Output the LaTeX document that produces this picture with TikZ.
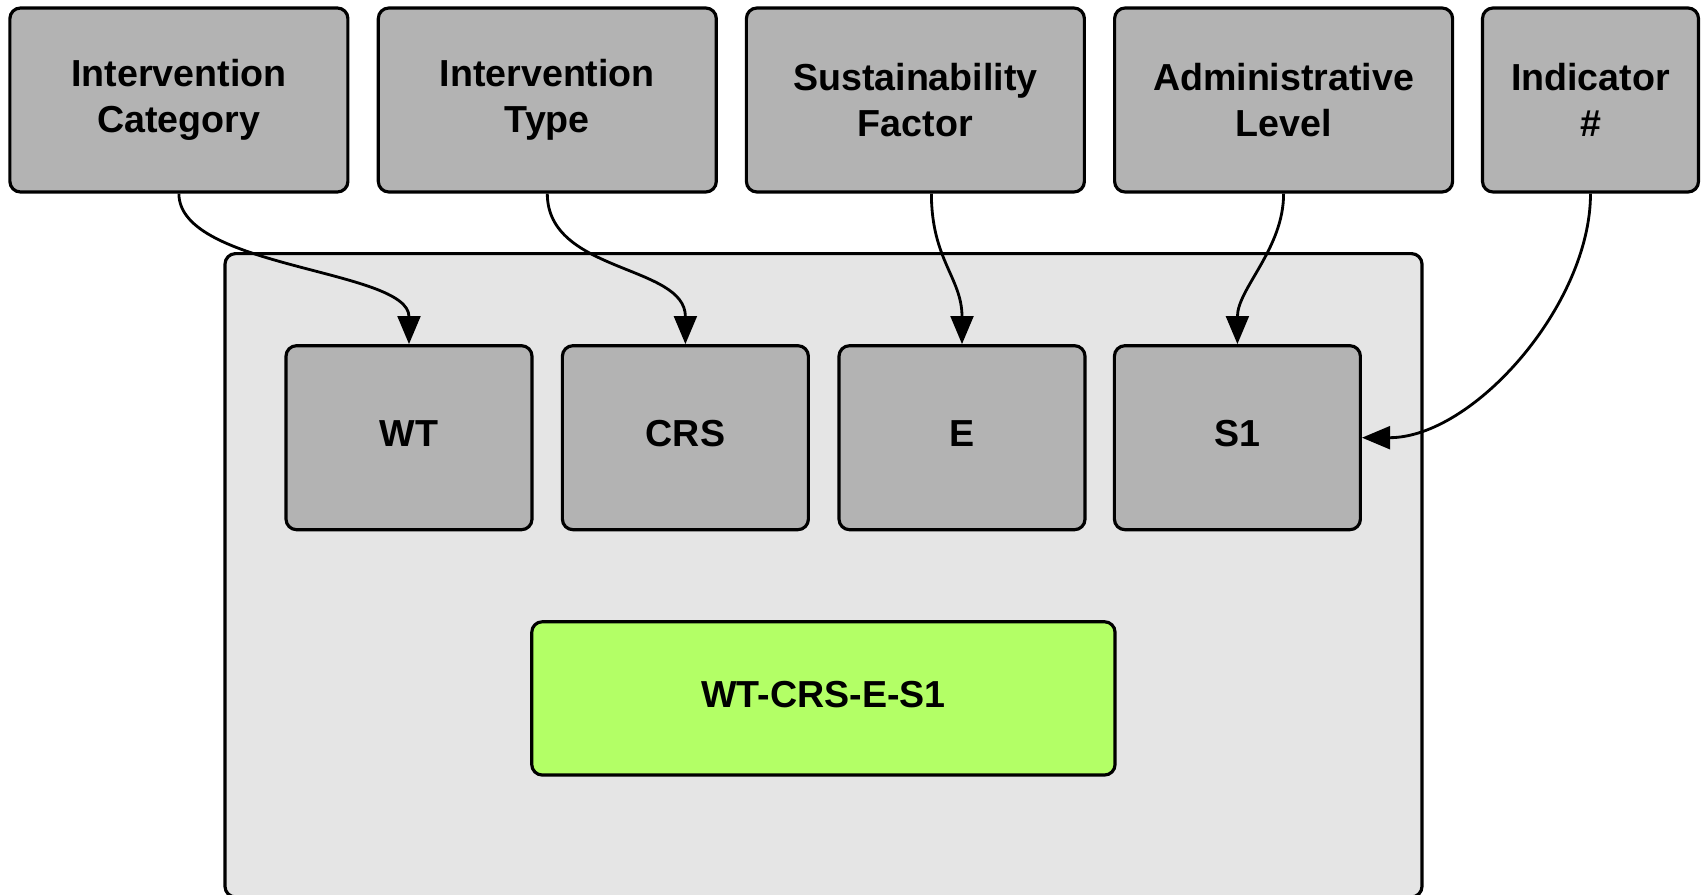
\documentclass[tikz,border=0pt]{standalone}
\usepackage{fontspec}
\setmainfont{Liberation Sans}
\usetikzlibrary{arrows.meta,calc}
\usepackage{xcolor}
\newcommand{\TopW}{3.38cm}
\newcommand{\LastW}{2.16cm}
\newcommand{\BoxH}{1.84cm}
\newcommand{\CodeW}{2.46cm}
\newcommand{\YTop}{-1.00}
\newcommand{\YCode}{-4.377}
\definecolor{FieldColor}{HTML}{B3B3B3}
\definecolor{PanelColor}{HTML}{E5E5E5}
\definecolor{ResultColor}{HTML}{B3FF66}

\begin{document}
\begin{tikzpicture}[
  field/.style={draw=black,line width=0.9pt,rounded corners=3pt,fill=FieldColor,
    minimum height=\BoxH,align=center,inner sep=0pt,
    font=\fontsize{10.7}{13}\selectfont\bfseries},
  part/.style={field,minimum width=\CodeW,text depth=2.5pt},
  panel/.style={draw=black,line width=0.9pt,rounded corners=3pt,fill=PanelColor},
  link/.style={line width=0.8pt,-{Triangle[length=8pt,width=6.5pt]}}
]
\useasboundingbox (0,0) rectangle (17.06,-8.95);

% Container
\draw[panel] (2.25,-2.536) rectangle (14.22,-8.97);

% Top row
\node[field,minimum width=\TopW] (cat)   at (1.789,\YTop)  {Intervention\\Category};
\node[field,minimum width=\TopW] (type)  at (5.473,\YTop)  {Intervention\\Type};
\node[field,minimum width=\TopW] (sust)  at (9.154,\YTop)  {Sustainability\\Factor};
\node[field,minimum width=\TopW] (admin) at (12.836,\YTop) {Administrative\\Level};
\node[field,minimum width=\LastW] (ind)  at (15.905,\YTop) {Indicator\\\#};

% Code parts
\node[part] (wt)  at (4.09,\YCode)   {WT};
\node[part] (crs) at (6.854,\YCode)  {CRS};
\node[part] (e)   at (9.62,\YCode)   {E};
\node[part] (s1)  at (12.374,\YCode) {S1};

% Full code
\node[field,fill=ResultColor,minimum width=5.833cm,minimum height=1.533cm,text depth=2.5pt]
  (code) at (8.234,-6.984) {WT-CRS-E-S1};

% Connections
\draw[link] (cat.south) to[out=-90,in=90,looseness=0.7] (wt.north);
\draw[link] (type.south) to[out=-90,in=90] (crs.north);
\draw[link] ([xshift=0.16cm]sust.south) to[out=-90,in=90,looseness=1.1] (e.north);
\draw[link] (admin.south) to[out=-90,in=90,looseness=0.9] (s1.north);
\draw[link] (ind.south) to[out=-90,in=0,looseness=0.85] (s1.east);

\end{tikzpicture}
\end{document}
